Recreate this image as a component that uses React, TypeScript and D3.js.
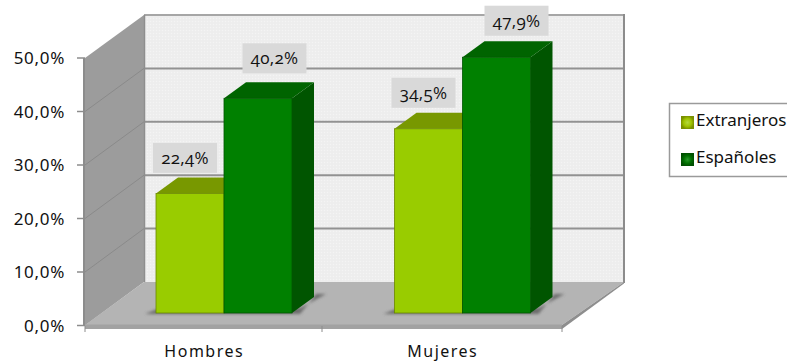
import React from "react";
import * as d3 from "d3";

const categories = ["Hombres", "Mujeres"];
const seriesNames = ["Extranjeros", "Españoles"];
const extranjeros = [22.4, 34.5];
const espanoles = [40.2, 47.9];
const axisTicks = [0, 10, 20, 30, 40, 50];
const valueLabels = [["22,4%", "34,5%"], ["40,2%", "47,9%"]];
const frontColors = ["#99cc00", "#008000"];
const topColors = ["#789800", "#006400"];
const sideColors = ["#6a8800", "#005500"];
const labelDx = [[-5, -5], [16.5, 20]];
const labelDy = [[-35.5, -36], [-40, -36.5]];

const W = 787, H = 362;
const yFront = d3.scaleLinear().domain([0, 50]).range([325.5, 58]);
const yBack = d3.scaleLinear().domain([0, 50]).range([282, 15]);
const yBar = d3.scaleLinear().domain([0, 50]).range([313, 46]);
const xCat = d3.scaleBand().domain(categories).range([85, 562]);
const xSeries = d3.scaleBand().domain(seriesNames).range([71, 207]);
const pct = (v: number) => v.toFixed(1).replace(".", ",") + "%";
const BDX = 22, BDY = -16;
const sans = "'Noto Sans', sans-serif";
const labelFont = "'Open Sans', sans-serif";
const pts = (a: number[][]) => a.map(p => p.join(",")).join(" ");
const all = [extranjeros, espanoles];

export default function App() {
  const bars = seriesNames.flatMap((s, si) => categories.map((c, ci) => {
    const x0 = xCat(c)! + xSeries(s)!;
    const w = xSeries.bandwidth();
    return { si, ci, x0, w, top: yBar(all[si][ci]), label: valueLabels[si][ci] };
  }));
  const base = yBar(0);
  return (
    <svg width={W} height={H} style={{ position: "absolute", left: 0, top: 0, background: "#fff" }}>
      <defs>
        <pattern id="dots" width="3" height="3" patternUnits="userSpaceOnUse">
          <rect width="3" height="3" fill="#eeeeee" />
          <rect width="1" height="1" fill="#f4f4f4" />
          <rect x="1.5" y="1.5" width="1" height="1" fill="#eaeaea" />
        </pattern>
        <filter id="blur" x="-20%" y="-50%" width="140%" height="200%"><feGaussianBlur stdDeviation="1.6" /></filter>
        <radialGradient id="lg0">
          <stop offset="0" stopColor="#b4d840" /><stop offset="0.6" stopColor="#a0c400" /><stop offset="1" stopColor="#7a9000" />
        </radialGradient>
        <radialGradient id="lg1">
          <stop offset="0" stopColor="#2a9a2a" /><stop offset="0.6" stopColor="#007000" /><stop offset="1" stopColor="#005000" />
        </radialGradient>
      </defs>

      {/* back wall */}
      <rect x={144} y={15} width={480} height={267} fill="url(#dots)" />
      {axisTicks.slice(1).map(t => (
        <line key={t} x1={144} x2={624} y1={yBack(t)} y2={yBack(t)} stroke={t === 50 ? "#a6a6a6" : "#929292"} strokeWidth={2} />
      ))}
      <line x1={624} x2={624} y1={14} y2={283} stroke="#8c8c8c" strokeWidth={2} />

      {/* left wall */}
      <polygon points={pts([[85, yFront(50)], [144, yBack(50)], [144, yBack(0)], [85, yFront(0)]])} fill="#9c9c9c" />
      <line x1={144.5} x2={144.5} y1={15} y2={282} stroke="#8e8e8e" strokeWidth={1.5} />
      {axisTicks.slice(1, -1).map(t => (
        <line key={t} x1={85} x2={144} y1={yFront(t)} y2={yBack(t)} stroke="#8a8a8a" strokeWidth={1} />
      ))}

      {/* floor */}
      <polygon points={pts([[85, 325], [144, 282], [624, 282], [562, 325]])} fill="#b4b4b4" />
      <rect x={85} y={324.5} width={477} height={4.5} fill="#a2a2a2" />
      <polygon points={pts([[562, 325], [624, 282], [624, 283.5], [562, 329]])} fill="#8e8e8e" />

      {/* axes */}
      <line x1={84} x2={84} y1={58} y2={326} stroke="#8c8c8c" strokeWidth={2} />
      {axisTicks.map(t => (
        <g key={t}>
          <line x1={77} x2={85} y1={yFront(t)} y2={yFront(t)} stroke="#8c8c8c" strokeWidth={1.5} />
          <text x={65} y={yFront(t) + 6} textAnchor="end" fontFamily={sans} fontSize={17} letterSpacing={0.7} fill="#111">{pct(t)}</text>
        </g>
      ))}
      {[85, 322, 562].map(x => <line key={x} x1={x} x2={x} y1={326} y2={332} stroke="#8c8c8c" strokeWidth={1} />)}
      {categories.map(c => (
        <text key={c} x={xCat(c)! + xCat.bandwidth() / 2} y={357} textAnchor="middle" fontFamily={sans} fontSize={16} letterSpacing={1.5} fill="#111">{c}</text>
      ))}

      {/* shadows */}
      {categories.map(c => {
        const x0 = xCat(c)! + xSeries(seriesNames[0])!;
        const x1 = xCat(c)! + xSeries(seriesNames[1])! + xSeries.bandwidth();
        return <polygon key={c} filter="url(#blur)" fill="#555" opacity={0.75}
          points={pts([[x0 - 11, base + 1], [x0 + 4, base - 5], [x1 + 8, base - 5], [x1 + 34, base - 19], [x1 + 24, base - 19], [x1 + 8, base + 1]])} />;
      })}

      {/* bars */}
      {bars.map(b => (
        <g key={`${b.si}-${b.ci}`}>
          <polygon points={pts([[b.x0 + b.w, b.top], [b.x0 + b.w + BDX, b.top + BDY], [b.x0 + b.w + BDX, base + BDY], [b.x0 + b.w, base]])} fill={sideColors[b.si]} />
          <polygon points={pts([[b.x0, b.top], [b.x0 + BDX, b.top + BDY], [b.x0 + b.w + BDX, b.top + BDY], [b.x0 + b.w, b.top]])} fill={topColors[b.si]} />
          <rect x={b.x0} y={b.top} width={b.w} height={base - b.top} fill={frontColors[b.si]} stroke={sideColors[b.si]} strokeWidth={0.8} />
        </g>
      ))}

      {/* value labels */}
      {bars.map(b => {
        const cx = b.x0 + b.w / 2 + labelDx[b.si][b.ci];
        const cy = b.top + labelDy[b.si][b.ci];
        return (
          <g key={b.label}>
            <rect x={cx - 32} y={cy - 15} width={64} height={30} fill="#d9d9d9" />
            <text x={cx} y={cy + 6} textAnchor="middle" fontFamily={labelFont} fontSize={17} letterSpacing={0.3} fill="#111" style={{ fontFeatureSettings: "'onum'" }}>{b.label}</text>
          </g>
        );
      })}

      {/* legend */}
      <rect x={669.5} y={103.5} width={130} height={73} fill="#fff" stroke="#9a9a9a" strokeWidth={1.5} />
      {seriesNames.map((s, i) => (
        <g key={s}>
          <rect x={681} y={116 + i * 37} width={13} height={13} fill={`url(#lg${i})`} />
          <text x={696} y={126 + i * 37} fontFamily={sans} fontSize={17} fill="#111">{s}</text>
        </g>
      ))}
    </svg>
  );
}
